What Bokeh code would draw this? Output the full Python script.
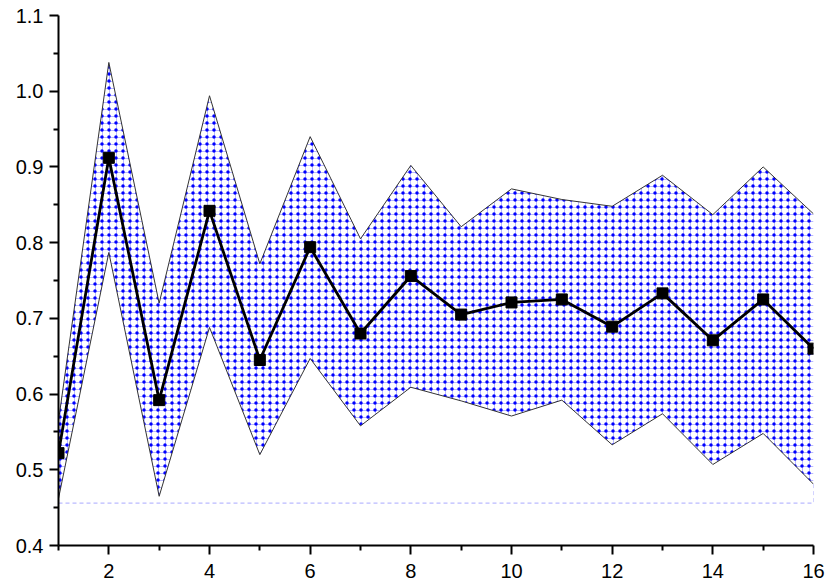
from bokeh.plotting import figure
from bokeh.models import Range1d, FixedTicker, NumeralTickFormatter
from bokeh.embed import file_html
from bokeh.resources import INLINE

# ---- data ----
x = list(range(1, 17))
mean = [0.522, 0.912, 0.592, 0.842, 0.645, 0.794, 0.680, 0.756,
        0.705, 0.721, 0.725, 0.689, 0.733, 0.671, 0.725, 0.660]
upper = [0.565, 1.038, 0.720, 0.994, 0.772, 0.940, 0.805, 0.902,
         0.821, 0.871, 0.857, 0.848, 0.889, 0.837, 0.900, 0.838]
lower = [0.462, 0.787, 0.465, 0.688, 0.520, 0.647, 0.558, 0.609,
         0.591, 0.571, 0.592, 0.533, 0.574, 0.507, 0.548, 0.481]
baseline = 0.456

x_major = [2, 4, 6, 8, 10, 12, 14, 16]
x_minor = [1, 3, 5, 7, 9, 11, 13, 15]
y_major = [0.4, 0.5, 0.6, 0.7, 0.8, 0.9, 1.0, 1.1]
y_minor = [0.45, 0.55, 0.65, 0.75, 0.85, 0.95, 1.05]

p = figure(width=828, height=584, x_range=Range1d(1, 16), y_range=Range1d(0.4, 1.1),
           output_backend="svg", toolbar_location=None,
           min_border_left=58, min_border_right=15, min_border_top=15, min_border_bottom=39)
p.outline_line_color = None
p.grid.visible = False
p.background_fill_color = "white"

# band fill: light-blue grid + blue dots
p.varea(x=x, y1=lower, y2=upper, fill_color="white",
        hatch_pattern="cross", hatch_color="#b8b8ff", hatch_scale=7, hatch_weight=1)
p.varea(x=x, y1=lower, y2=upper, fill_alpha=0,
        hatch_pattern="dot", hatch_color="#0000ff", hatch_scale=7, hatch_weight=6)

p.line(x, upper, line_color="#333333", line_width=1)
p.line(x, lower, line_color="#333333", line_width=1)

# baseline of fill area
p.line([x[0], x[-1], x[-1]], [baseline, baseline, lower[-1]],
       line_color="#a8a8ff", line_width=1, line_dash="4 3")

# mean line
p.line(x, mean, line_color="black", line_width=2.8)
p.scatter(x, mean, marker="square", size=11, fill_color="black", line_color="black")

# axes
p.xaxis.ticker = FixedTicker(ticks=x_major, minor_ticks=x_minor)
p.yaxis.ticker = FixedTicker(ticks=y_major, minor_ticks=y_minor)
p.yaxis.formatter = NumeralTickFormatter(format="0.0")
for ax in (p.xaxis[0], p.yaxis[0]):
    ax.axis_line_width = 2
    ax.axis_line_color = "black"
    ax.major_tick_line_width = 2
    ax.minor_tick_line_width = 2
    ax.major_tick_line_color = "black"
    ax.minor_tick_line_color = "black"
    ax.major_tick_out = 9
    ax.major_tick_in = 0
    ax.minor_tick_out = 5
    ax.minor_tick_in = 0
    ax.major_label_text_font = "Liberation Sans"
    ax.major_label_text_font_size = "20px"
    ax.major_label_text_color = "black"
p.yaxis.major_label_standoff = 6
p.xaxis.major_label_standoff = 9

open("out.html", "w").write(file_html(p, INLINE))
